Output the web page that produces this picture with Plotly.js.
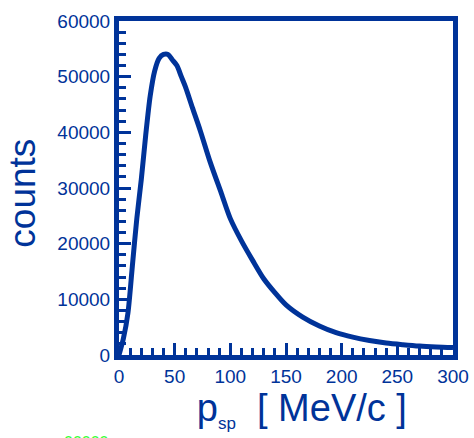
<!DOCTYPE html>
<html>
<head>
<meta charset="utf-8">
<script src="https://cdn.plot.ly/plotly-3.0.1.min.js"></script>
<style>html,body{margin:0;padding:0;background:#fff;}#chart{width:474px;height:438px;}</style>
</head>
<body>
<div id="chart"></div>
<script>
// momentum p_sp [MeV/c]
const momentum = [0, 4, 8, 12, 16, 20, 24, 28, 32, 36, 40, 44, 48, 52, 56, 60, 66, 73, 82, 92, 100, 110, 120, 130, 140, 150, 165, 180, 195, 210, 225, 240, 255, 270, 285, 300];
// counts per bin
const counts = [0, 3000, 7500, 16000, 24500, 31500, 39500, 46500, 51000, 53300, 54000, 54000, 53000, 52000, 50000, 48000, 44400, 40300, 34600, 29000, 24500, 20500, 17000, 13700, 11200, 9000, 6800, 5200, 4000, 3200, 2600, 2150, 1850, 1600, 1450, 1350];
const xTickVals = [0, 50, 100, 150, 200, 250, 300];
const yTickVals = [0, 10000, 20000, 30000, 40000, 50000, 60000];

const blue = '#003399';
const fontFam = 'Liberation Sans, Arial, sans-serif';
const tickFont = {family: fontFam, size: 19, color: blue};

const trace = {
  x: momentum, y: counts, type: 'scatter', mode: 'lines',
  line: {color: blue, width: 5, shape: 'spline', smoothing: 0.8},
  hoverinfo: 'skip'
};

const axisCommon = {
  showline: true, linecolor: blue, linewidth: 5, mirror: true,
  showgrid: false, zeroline: false,
  ticks: 'inside', ticklen: 12, tickwidth: 3, tickcolor: blue,
  tickfont: tickFont
};

const layout = {
  width: 474, height: 438,
  margin: {l: 119, r: 21, t: 21, b: 83},
  paper_bgcolor: '#ffffff', plot_bgcolor: '#ffffff',
  showlegend: false,
  xaxis: Object.assign({}, axisCommon, {
    range: [0, 300], tickvals: xTickVals, ticktext: xTickVals.map(String),
    minor: {dtick: 10, ticks: 'inside', ticklen: 7, tickwidth: 3, tickcolor: blue},
    title: {text: '&nbsp;&nbsp;&nbsp;p<sub><span style="font-size:17px">sp</span></sub>&nbsp; [ MeV/c ]',
            font: {family: fontFam, size: 38, color: blue}, standoff: 0}
  }),
  yaxis: Object.assign({}, axisCommon, {
    range: [0, 60000], tickvals: yTickVals, ticktext: yTickVals.map(String),
    minor: {dtick: 2000, ticks: 'inside', ticklen: 7, tickwidth: 3, tickcolor: blue},
    title: {text: 'counts&nbsp;', font: {family: fontFam, size: 37, color: blue}, standoff: 12}
  }),
  annotations: [{
    xref: 'paper', yref: 'paper', x: -0.17, y: -0.23, xanchor: 'left', yanchor: 'top',
    text: '00000', showarrow: false,
    font: {family: fontFam, size: 16, color: '#33ff33'}
  }]
};

Plotly.newPlot('chart', [trace], layout, {staticPlot: true, displayModeBar: false});
</script>
</body>
</html>
